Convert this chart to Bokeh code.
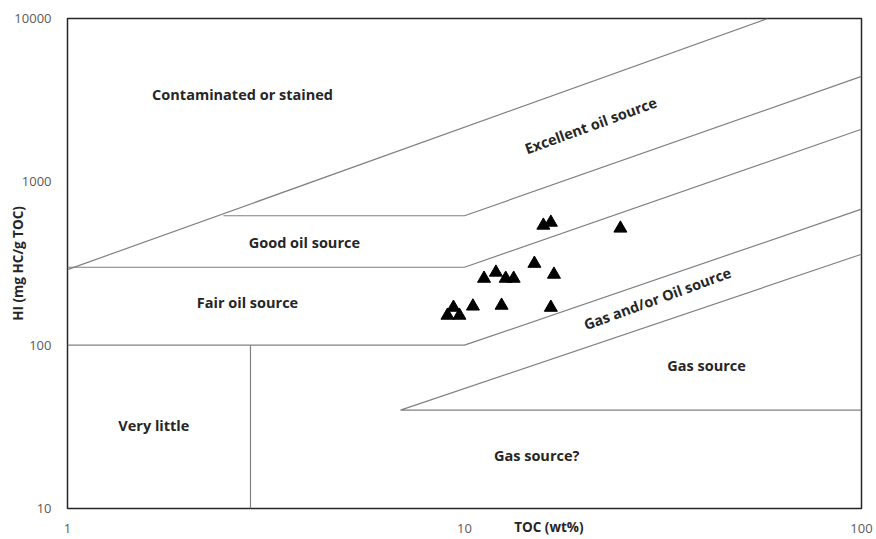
from bokeh.plotting import figure
from bokeh.models import ColumnDataSource, FixedTicker, NumeralTickFormatter
from bokeh.core.properties import value
from bokeh.embed import file_html
from bokeh.resources import INLINE
import math

# ---- sample data (TOC wt%, HI mg HC/g TOC) ----
toc = [15.8, 16.5, 24.7, 15.0, 11.2, 12.0, 12.7, 13.3, 16.8, 9.38, 9.06, 9.71, 10.5, 12.4, 16.5]
hi = [541, 564, 519, 316, 256, 279, 256, 256, 271, 170, 152, 152, 173, 175, 170]

# ---- classification boundaries (data units) ----
contam_x = [1, 58]
contam_y = [290, 10000]
excellent_x = [2.47, 10, 100]
excellent_y = [620, 620, 4420]
good_x = [1, 10, 100]
good_y = [300, 300, 2100]
fair_x = [1, 10, 100]
fair_y = [100, 100, 680]
gas_x = [100, 6.9, 100]
gas_y = [360, 40, 40]
little_x = [2.89, 2.89]
little_y = [100, 10]

# ---- region labels ----
region_text = ["Contaminated or stained", "Excellent oil source", "Good oil source",
               "Fair oil source", "Gas and/or Oil source", "Gas source",
               "Very little", "Gas source?"]
region_x = [2.76, 20.8, 3.95, 2.84, 30.6, 40.7, 1.65, 15.2]
region_y = [3430, 2213, 426, 182, 193, 75, 32.2, 21.1]
region_angle_deg = [0, 20, 0, 0, 20, 0, 0, 0]

x_ticks = [1, 10, 100]
y_ticks = [10, 100, 1000, 10000]
x_title = "TOC (wt%)"
y_title = "HI (mg HC/g TOC)"

FONT = "Open Sans"
TXT = "#262626"

p = figure(x_axis_type="log", y_axis_type="log", x_range=(1, 100), y_range=(10, 10000),
           frame_width=794, frame_height=490,
           min_border_left=67, min_border_right=13, min_border_top=18, min_border_bottom=29,
           output_backend="svg", toolbar_location=None,
           background_fill_color="white", border_fill_color="white")

p.xgrid.grid_line_color = None
p.ygrid.grid_line_color = None
p.outline_line_color = "#262626"
p.outline_line_width = 1.5

for ax, ticks in ((p.xaxis, x_ticks), (p.yaxis, y_ticks)):
    ax.ticker = FixedTicker(ticks=ticks, minor_ticks=[])
    ax.formatter = NumeralTickFormatter(format="0")
    ax.axis_line_color = None
    ax.major_tick_line_color = None
    ax.minor_tick_line_color = None
    ax.major_label_text_font = FONT
    ax.major_label_text_font_size = "13px"
    ax.major_label_text_color = "#595959"
    ax.axis_label_text_font = FONT
    ax.axis_label_text_font_style = "bold"
    ax.axis_label_text_font_size = "13.5px"
    ax.axis_label_text_color = TXT
p.xaxis.major_label_standoff = 9
p.yaxis.major_label_standoff = 10

# y title: real axis label, pulled in toward the tick labels
p.yaxis.axis_label = y_title
p.yaxis.axis_label_standoff = -16

# x title: sits on the tick-label row, to the right of the "10" label
# (em spaces in front shift its centre right of the frame's middle)
p.xaxis.axis_label = "\u2003" * 12 + "\u2002" + x_title
p.xaxis.axis_label_standoff_mode = "axis"
p.xaxis.axis_label_standoff = 9

line_kw = dict(line_color="#808080", line_width=1.2)
for xs, ys in ((contam_x, contam_y), (excellent_x, excellent_y), (good_x, good_y),
               (fair_x, fair_y), (gas_x, gas_y), (little_x, little_y)):
    p.line(xs, ys, **line_kw)

src = ColumnDataSource(dict(x=region_x, y=region_y, text=region_text,
                            angle=[math.radians(a) for a in region_angle_deg]))
p.text(x="x", y="y", text="text", angle="angle", source=src,
       text_font=value(FONT), text_font_style="bold", text_font_size="14.5px",
       text_color=TXT, text_align="center", text_baseline="middle")

p.scatter(toc, hi, marker="triangle", size=13, fill_color="black", line_color="black")

open("out.html", "w").write(file_html(p, INLINE))
